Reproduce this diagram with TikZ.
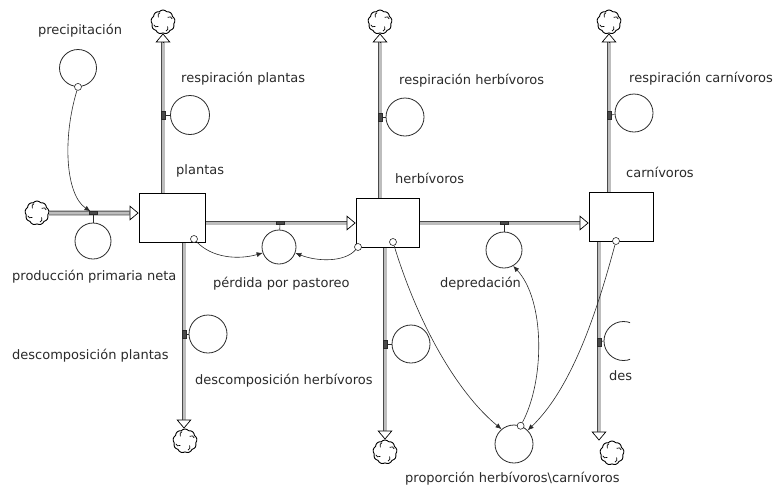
\documentclass[tikz,border=0pt]{standalone}
\usepackage{fontspec}
\setmainfont{DejaVu Sans}
\usetikzlibrary{arrows.meta,shapes.symbols,calc}
\definecolor{ink}{HTML}{2A2A2A}
\definecolor{pipefill}{HTML}{BDBDBD}
\definecolor{pipeedge}{HTML}{4A4A4A}
\begin{document}
\begin{tikzpicture}[x=1pt,y=-1pt,
  font=\fontsize{13pt}{15pt}\selectfont,
  stockbox/.style={draw=black,line width=0.8pt,fill=white,minimum width=64pt,minimum height=49pt,inner sep=0pt},
  auxc/.style={circle,draw=ink,line width=0.8pt,minimum size=37pt,inner sep=0pt},
  srccloud/.style={cloud,cloud puffs=9,cloud puff arc=100,aspect=1,draw=black,line width=0.9pt,fill=white,
    minimum width=24pt,minimum height=24pt,inner sep=0pt,
    path picture={\foreach \ang in {45,135,225,315}{\draw[line width=0.7pt] ($(path picture bounding box.center)+(\ang:6.5pt)$) arc[start angle=\ang+80, delta angle=-110, radius=3pt];}}},
  lbl/.style={anchor=west,inner sep=0pt,text=ink,text height=1ex,text depth=0pt},
  pipe/.style={draw=pipeedge,line width=0.8pt,double=pipefill,double distance=3pt},
  ptip/.style={-{Triangle[length=9pt,width=15pt,fill=white]},draw=black,line width=0.7pt},
  valveh/.style={draw=ink,fill=pipeedge,minimum width=8pt,minimum height=3pt,inner sep=0pt},
  valvev/.style={draw=ink,fill=pipeedge,minimum width=4pt,minimum height=8pt,inner sep=0pt},
  vline/.style={draw=ink,line width=0.6pt},
  link/.style={draw=ink,line width=0.6pt,-{Latex[length=6pt,width=5pt]}},
  orig/.style={circle,draw=ink,fill=white,line width=0.6pt,minimum size=7pt,inner sep=0pt},
]
\useasboundingbox (0,0) rectangle (774,488);

% clouds
\node[srccloud] (c0) at (37,213) {};
\node[srccloud] (cP1) at (163,22) {};
\node[srccloud] (cH1) at (380,22) {};
\node[srccloud] (cC1) at (609,22) {};
\node[srccloud] (cP2) at (185,441) {};
\node[srccloud] (cH2) at (385,452) {};
\node[srccloud] (cC2) at (612,453) {};

% valve positions
\coordinate (pin) at (93,213);
\coordinate (pRP) at (163,115);
\coordinate (pDP) at (184,334);
\coordinate (pPP) at (280,223);
\coordinate (pRH) at (380,117);
\coordinate (pDH) at (385,344);
\coordinate (pDep) at (504,223);
\coordinate (pRC) at (609,115);
\coordinate (pDC) at (599,342);

% stock geometry (outlines drawn later, above the pipes)
\path (172,217.5) coordinate (plantasC) (387.5,222.5) coordinate (herbC) (621,216.5) coordinate (carnC);
\node[stockbox,minimum width=66pt,draw=none,fill=none] (plantas) at (plantasC) {};
\node[stockbox,minimum width=63pt,draw=none,fill=none] (herb) at (herbC) {};
\node[stockbox,draw=none,fill=none] (carn) at (carnC) {};

% horizontal pipes
\draw[pipe] (c0.east) -- ($(plantas.west |- pin)+(-9,0)$);
\draw[ptip] ($(plantas.west |- pin)+(-9,0)$) -- (plantas.west |- pin);
\draw[pipe] (plantas.east |- pPP) -- ($(herb.west |- pPP)+(-9,0)$);
\draw[ptip] ($(herb.west |- pPP)+(-9,0)$) -- (herb.west |- pPP);
\draw[pipe] (herb.east |- pDep) -- ($(carn.west |- pDep)+(-9,0)$);
\draw[ptip] ($(carn.west |- pDep)+(-9,0)$) -- (carn.west |- pDep);

% vertical pipes up
\draw[pipe] (pRP |- plantas.north) -- ($(pRP |- cP1.south)+(0,9)$);
\draw[ptip] ($(pRP |- cP1.south)+(0,9)$) -- (pRP |- cP1.south);
\draw[pipe] (pRH |- herb.north) -- ($(pRH |- cH1.south)+(0,9)$);
\draw[ptip] ($(pRH |- cH1.south)+(0,9)$) -- (pRH |- cH1.south);
\draw[pipe] (pRC |- carn.north) -- ($(pRC |- cC1.south)+(0,9)$);
\draw[ptip] ($(pRC |- cC1.south)+(0,9)$) -- (pRC |- cC1.south);

% vertical pipes down
\draw[pipe] (pDP |- plantas.south) -- ($(pDP |- cP2.north)+(0,-9)$);
\draw[ptip] ($(pDP |- cP2.north)+(0,-9)$) -- (pDP |- cP2.north);
\draw[pipe] (pDH |- herb.south) -- ($(pDH |- cH2.north)+(0,-9)$);
\draw[ptip] ($(pDH |- cH2.north)+(0,-9)$) -- (pDH |- cH2.north);
\draw[pipe] (pDC |- carn.south) -- ($(pDC |- cC2.north)+(0,-9)$);
\draw[ptip] ($(pDC |- cC2.north)+(0,-9)$) -- (pDC |- cC2.north);

% stocks drawn
\node[stockbox,minimum width=66pt] (plantasB) at (plantasC) {};
\node[stockbox,minimum width=63pt] (herbB) at (herbC) {};
\node[stockbox] (carnB) at (carnC) {};

% auxiliaries
\node[auxc] (prec) at (78,68) {};
\node[auxc,minimum size=36pt] (ppn) at (93,241) {};
\node[auxc,minimum size=39pt] (rp) at (190,115) {};
\node[auxc,minimum size=38pt] (dp) at (208,334) {};
\node[auxc,minimum size=34pt] (perd) at (279,247) {};
\node[auxc,minimum size=38pt] (rh) at (405,117) {};
\node[auxc,minimum size=38pt] (dh) at (411,344) {};
\node[auxc,minimum size=36pt] (dep) at (504,250) {};
\node[auxc,minimum size=38pt] (rc) at (634,113) {};
\node[auxc,minimum size=38pt] (prop) at (514,444) {};
\begin{scope}
  \clip (560,300) rectangle (630,400);
  \node[auxc,minimum size=39pt] (dc) at (623.5,341) {};
\end{scope}

% valves
\node[valveh] (vin) at (pin) {};
\node[valvev] (vRP) at (pRP) {};
\node[valvev] (vDP) at (pDP) {};
\node[valveh] (vPP) at (pPP) {};
\node[valvev] (vRH) at (pRH) {};
\node[valvev] (vDH) at (pDH) {};
\node[valveh] (vDep) at (pDep) {};
\node[valvev] (vRC) at (pRC) {};
\node[valvev] (vDC) at (pDC) {};

\draw[vline] (vin) -- (ppn);
\draw[vline] (vRP) -- (rp);
\draw[vline] (vDP) -- (dp);
\draw[vline] (vPP) -- (perd);
\draw[vline] (vRH) -- (rh);
\draw[vline] (vDH) -- (dh);
\draw[vline] (vDep) -- (dep);
\draw[vline] (vRC) -- (rc);
\draw[vline] (vDC) -- (dc.west);

% information links
\node[orig] (oPrec) at (prec.south) {};
\draw[link] (oPrec) .. controls (62,140) and (66,195) .. (vin);
\node[orig] (oP) at (194,239) {};
\draw[link] (oP) .. controls (212,258) and (238,260) .. (perd.200);
\node[orig] (oH1) at (358,247) {};
\draw[link] (oH1) .. controls (345,262) and (318,262) .. (perd.-20);
\node[orig] (oH2) at (393,242) {};
\draw[link] (oH2) .. controls (420,330) and (460,395) .. (prop.130);
\node[orig] (oC) at (616,241) {};
\draw[link] (oC) .. controls (600,300) and (575,385) .. (prop.45);
\node[orig] (oProp) at (prop.70) {};
\draw[link] (oProp) .. controls (545,380) and (545,300) .. (dep.-60);

% labels
\node[lbl,anchor=center] (tprec) at (80,32) {precipitación};
\node[lbl] (trp) at (181,80) {respiración plantas};
\node[lbl] (tplantas) at (176,172) {plantas};
\node[lbl] (tppn) at (12,278) {producción primaria neta};
\node[lbl] (tperd) at (213,285) {pérdida por pastoreo};
\node[lbl] (tdp) at (12,357) {descomposición plantas};
\node[lbl] (tdh) at (195,382) {descomposición herbívoros};
\node[lbl] (trh) at (399,82) {respiración herbívoros};
\node[lbl] (therb) at (395,181) {herbívoros};
\node[lbl] (trc) at (629,80) {respiración carnívoros};
\node[lbl] (tcarn) at (626,175) {carnívoros};
\node[lbl] (tdep) at (440,285) {depredación};
\node[lbl] (tdes) at (609,378) {des};
\node[lbl] (tprop) at (405,480) {proporción herbívoros\textbackslash carnívoros};
\end{tikzpicture}
\end{document}
